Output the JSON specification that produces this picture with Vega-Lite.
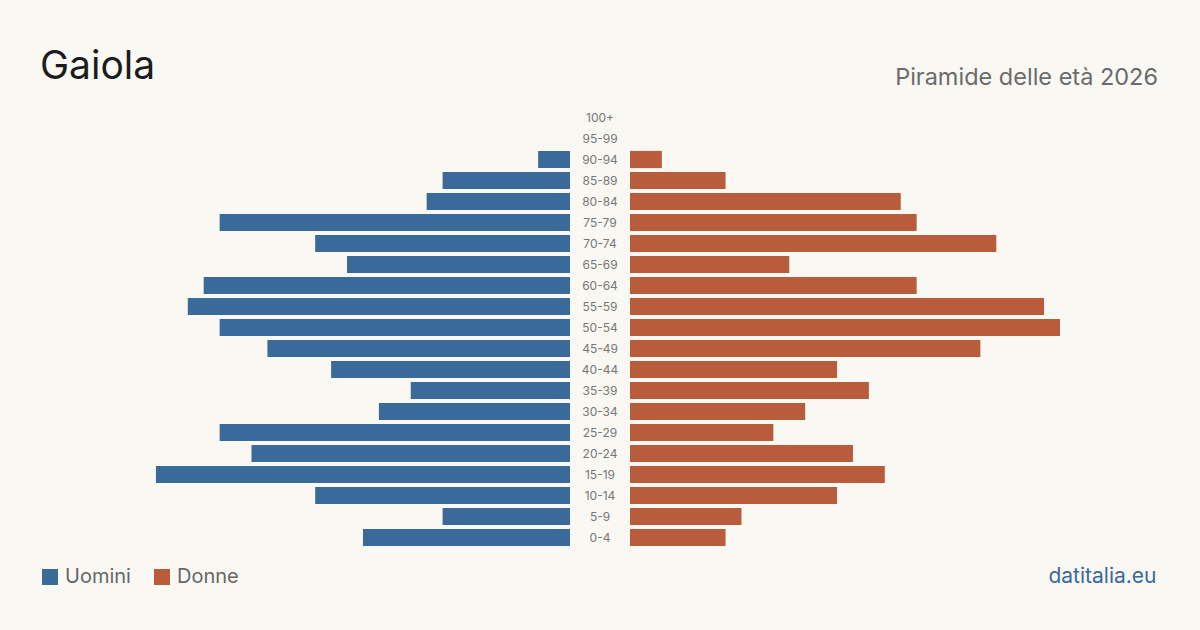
{
  "$schema": "https://vega.github.io/schema/vega-lite/v6.json",
  "background": "#f9f8f3",
  "padding": {"left": 40, "right": 42, "top": 47, "bottom": 44},
  "config": {"view": {"stroke": null}, "font": "Inter"},
  "datasets": {
    "pop": [
      {"age": "100+", "sex": "Uomini", "value": 0}, {"age": "100+", "sex": "Donne", "value": 0},
      {"age": "95-99", "sex": "Uomini", "value": 0}, {"age": "95-99", "sex": "Donne", "value": 0},
      {"age": "90-94", "sex": "Uomini", "value": 2}, {"age": "90-94", "sex": "Donne", "value": 2},
      {"age": "85-89", "sex": "Uomini", "value": 8}, {"age": "85-89", "sex": "Donne", "value": 6},
      {"age": "80-84", "sex": "Uomini", "value": 9}, {"age": "80-84", "sex": "Donne", "value": 17},
      {"age": "75-79", "sex": "Uomini", "value": 22}, {"age": "75-79", "sex": "Donne", "value": 18},
      {"age": "70-74", "sex": "Uomini", "value": 16}, {"age": "70-74", "sex": "Donne", "value": 23},
      {"age": "65-69", "sex": "Uomini", "value": 14}, {"age": "65-69", "sex": "Donne", "value": 10},
      {"age": "60-64", "sex": "Uomini", "value": 23}, {"age": "60-64", "sex": "Donne", "value": 18},
      {"age": "55-59", "sex": "Uomini", "value": 24}, {"age": "55-59", "sex": "Donne", "value": 26},
      {"age": "50-54", "sex": "Uomini", "value": 22}, {"age": "50-54", "sex": "Donne", "value": 27},
      {"age": "45-49", "sex": "Uomini", "value": 19}, {"age": "45-49", "sex": "Donne", "value": 22},
      {"age": "40-44", "sex": "Uomini", "value": 15}, {"age": "40-44", "sex": "Donne", "value": 13},
      {"age": "35-39", "sex": "Uomini", "value": 10}, {"age": "35-39", "sex": "Donne", "value": 15},
      {"age": "30-34", "sex": "Uomini", "value": 12}, {"age": "30-34", "sex": "Donne", "value": 11},
      {"age": "25-29", "sex": "Uomini", "value": 22}, {"age": "25-29", "sex": "Donne", "value": 9},
      {"age": "20-24", "sex": "Uomini", "value": 20}, {"age": "20-24", "sex": "Donne", "value": 14},
      {"age": "15-19", "sex": "Uomini", "value": 26}, {"age": "15-19", "sex": "Donne", "value": 16},
      {"age": "10-14", "sex": "Uomini", "value": 16}, {"age": "10-14", "sex": "Donne", "value": 13},
      {"age": "5-9", "sex": "Uomini", "value": 8}, {"age": "5-9", "sex": "Donne", "value": 7},
      {"age": "0-4", "sex": "Uomini", "value": 13}, {"age": "0-4", "sex": "Donne", "value": 6}
    ]
  },
  "data": {"name": "pop"},
  "bounds": "flush",
  "spacing": 0,
  "hconcat": [
    {
      "width": 430,
      "height": 441,
      "title": {"text": "Gaiola", "anchor": "start", "frame": "group", "dx": -100, "dy": 37, "fontSize": 39, "fontWeight": "normal", "color": "#1c1c1c", "baseline": "alphabetic", "offset": 26.5, "font": "Inter"},
      "transform": [{"filter": "datum.sex === 'Uomini'"}],
      "mark": {"type": "bar"},
      "encoding": {
        "y": {"field": "age", "type": "nominal", "sort": ["100+", "95-99", "90-94", "85-89", "80-84", "75-79", "70-74", "65-69", "60-64", "55-59", "50-54", "45-49", "40-44", "35-39", "30-34", "25-29", "20-24", "15-19", "10-14", "5-9", "0-4"], "scale": {"paddingInner": 0.18, "paddingOuter": 0.09}, "axis": null},
        "x": {"field": "value", "type": "quantitative", "scale": {"domain": [0, 27], "reverse": true, "nice": false}, "axis": null},
        "color": {"field": "sex", "type": "nominal", "scale": {"domain": ["Uomini", "Donne"], "range": ["#3a6a9a", "#b95c3c"]},
          "legend": {"title": null, "orient": "none", "legendX": -100, "legendY": 460, "direction": "horizontal", "symbolType": "square", "symbolSize": 256, "symbolStrokeWidth": 0, "labelFontSize": 20, "labelColor": "#666666", "labelFont": "Inter", "labelOffset": 5, "columnPadding": 21, "padding": 0}}
      }
    },
    {
      "width": 60,
      "height": 441,
      "transform": [{"filter": "datum.sex === 'Uomini'"}],
      "mark": {"type": "text", "fontSize": 12, "color": "#777777", "font": "Inter"},
      "encoding": {
        "y": {"field": "age", "type": "nominal", "sort": ["100+", "95-99", "90-94", "85-89", "80-84", "75-79", "70-74", "65-69", "60-64", "55-59", "50-54", "45-49", "40-44", "35-39", "30-34", "25-29", "20-24", "15-19", "10-14", "5-9", "0-4"], "scale": {"paddingInner": 0.18, "paddingOuter": 0.09}, "axis": null},
        "text": {"field": "age", "type": "nominal"}
      }
    },
    {
      "width": 430,
      "height": 441,
      "title": {"text": "Piramide delle età 2026", "anchor": "end", "frame": "group", "dx": 98, "dy": 23, "fontSize": 23.5, "fontWeight": "normal", "color": "#6b6b6b", "baseline": "alphabetic", "offset": 22, "font": "Inter"},
      "transform": [{"filter": "datum.sex === 'Donne'"}],
      "mark": {"type": "bar"},
      "encoding": {
        "y": {"field": "age", "type": "nominal", "sort": ["100+", "95-99", "90-94", "85-89", "80-84", "75-79", "70-74", "65-69", "60-64", "55-59", "50-54", "45-49", "40-44", "35-39", "30-34", "25-29", "20-24", "15-19", "10-14", "5-9", "0-4"], "scale": {"paddingInner": 0.18, "paddingOuter": 0.09}, "axis": null},
        "x": {"field": "value", "type": "quantitative", "scale": {"domain": [0, 27], "nice": false},
          "axis": {"title": "datitalia.eu", "labels": false, "ticks": false, "domain": false, "grid": false, "titleAnchor": "end", "titleX": 526, "titleY": 34.5, "titleAlign": "right", "titleBaseline": "alphabetic", "titleFontSize": 21, "titleFontWeight": "normal", "titleColor": "#3a6a9a", "titleFont": "Inter"}},
        "color": {"field": "sex", "type": "nominal", "scale": {"domain": ["Uomini", "Donne"], "range": ["#3a6a9a", "#b95c3c"]}}
      }
    }
  ],
  "resolve": {"scale": {"color": "shared"}, "legend": {"color": "shared"}}
}
